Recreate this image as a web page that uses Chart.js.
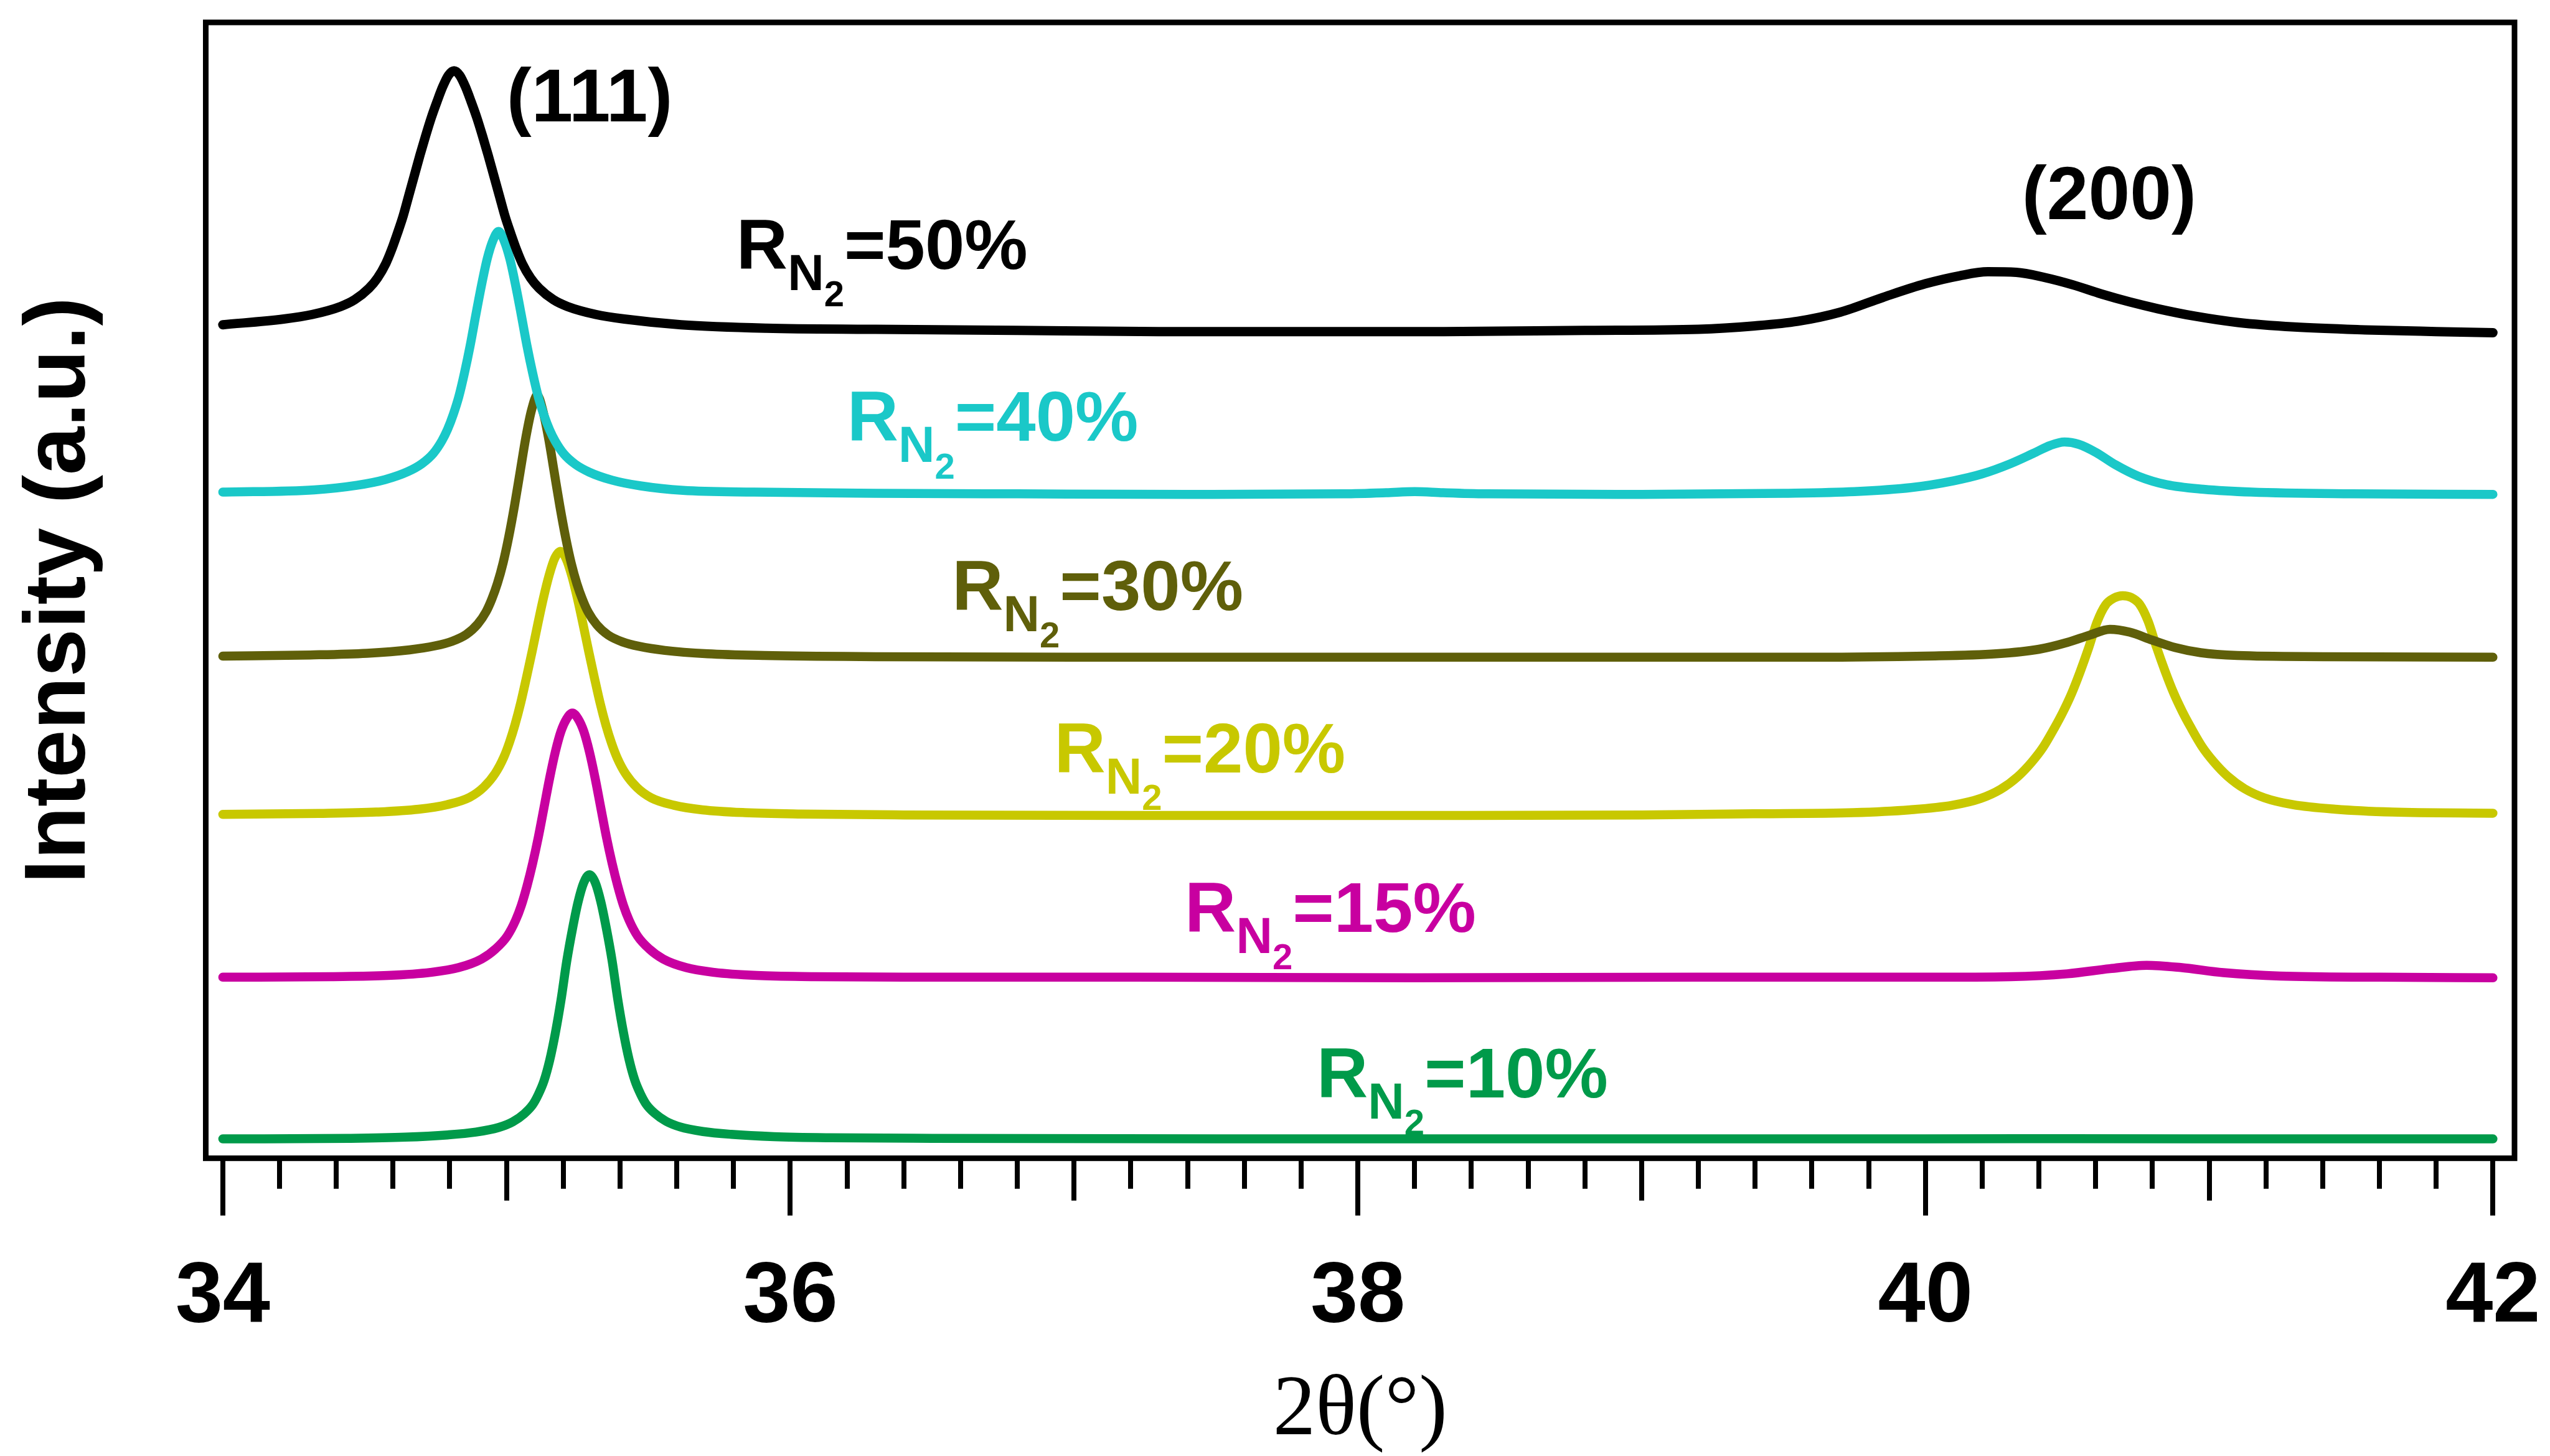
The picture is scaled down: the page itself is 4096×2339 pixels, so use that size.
<!DOCTYPE html>
<html>
<head>
<meta charset="utf-8">
<script src="https://cdn.jsdelivr.net/npm/chart.js@4.4.1/dist/chart.umd.min.js"></script>
<style>
  html, body { margin: 0; padding: 0; background: #fff; overflow: hidden; }
  canvas { display: block; }
</style>
</head>
<body>
<canvas id="xrd-chart" width="4096" height="2339"></canvas>
<script>
// XRD patterns, [2theta (deg), intensity (a.u., stacked)]
const rn50 = [
    [34.00, 73.2], [34.215, 73.7], [34.315, 74.1], [34.415, 74.8], [34.465, 75.4], [34.515, 76.4], [34.545, 77.3],
    [34.575, 78.6], [34.595, 79.8], [34.615, 81.2], [34.635, 82.7], [34.655, 84.5], [34.675, 86.3], [34.695, 88.1],
    [34.715, 89.8], [34.735, 91.4], [34.755, 92.8], [34.775, 94.1], [34.795, 95.1], [34.815, 95.5], [34.835, 95.1],
    [34.855, 94.1], [34.875, 92.8], [34.895, 91.4], [34.915, 89.8], [34.935, 88.1], [34.955, 86.3], [34.975, 84.5],
    [34.995, 82.7], [35.015, 81.2], [35.035, 79.8], [35.055, 78.6], [35.085, 77.3], [35.115, 76.4], [35.165, 75.4],
    [35.215, 74.8], [35.315, 74.1], [35.415, 73.7], [35.615, 73.2], [35.915, 72.9], [36.30, 72.8], [36.80, 72.7],
    [37.30, 72.6], [37.80, 72.6], [38.30, 72.6], [38.80, 72.7], [39.20, 72.8], [39.40, 73.1], [39.55, 73.5],
    [39.70, 74.3], [39.85, 75.6], [40.00, 76.8], [40.12, 77.5], [40.22, 77.85], [40.32, 77.8], [40.42, 77.35],
    [40.52, 76.7], [40.62, 75.9], [40.72, 75.2], [40.82, 74.6], [40.95, 73.95], [41.10, 73.4], [41.30, 73.0],
    [41.55, 72.75], [41.80, 72.6], [42.00, 72.5]
];
const rn40 = [
    [34.00, 58.5], [34.322, 58.7], [34.472, 59.1], [34.572, 59.6], [34.652, 60.3], [34.702, 61.0], [34.742, 61.9],
    [34.772, 63.0], [34.792, 64.0], [34.812, 65.3], [34.832, 66.9], [34.852, 69.0], [34.872, 71.4], [34.892, 74.1],
    [34.912, 76.7], [34.932, 79.0], [34.952, 80.6], [34.972, 81.4], [34.992, 80.55], [35.012, 78.95], [35.032, 76.65],
    [35.052, 74.05], [35.072, 71.35], [35.092, 68.95], [35.112, 66.85], [35.132, 65.25], [35.152, 63.95],
    [35.172, 62.95], [35.202, 61.85], [35.242, 60.95], [35.292, 60.25], [35.372, 59.55], [35.472, 59.05],
    [35.622, 58.65], [35.872, 58.5], [36.30, 58.4], [36.80, 58.35], [37.40, 58.3], [37.95, 58.35], [38.10, 58.45],
    [38.20, 58.55], [38.30, 58.45], [38.45, 58.35], [39.00, 58.3], [39.50, 58.4], [39.75, 58.55], [39.95, 58.9],
    [40.10, 59.5], [40.20, 60.1], [40.30, 61.0], [40.38, 61.9], [40.44, 62.6], [40.49, 62.9], [40.54, 62.7],
    [40.60, 62.0], [40.67, 60.9], [40.75, 59.9], [40.85, 59.15], [40.98, 58.75], [41.15, 58.5], [41.50, 58.35],
    [42.00, 58.3]
];
const rn30 = [
    [34.00, 44.1], [34.308, 44.2], [34.508, 44.35], [34.658, 44.65], [34.748, 45.0], [34.808, 45.4], [34.858, 46.0],
    [34.898, 46.9], [34.928, 48.0], [34.948, 49.1], [34.968, 50.5], [34.988, 52.3], [35.008, 54.6], [35.028, 57.3],
    [35.048, 60.3], [35.068, 63.3], [35.088, 65.7], [35.108, 67.0], [35.128, 65.65], [35.148, 63.25], [35.168, 60.25],
    [35.188, 57.25], [35.208, 54.55], [35.228, 52.25], [35.248, 50.45], [35.268, 49.05], [35.288, 47.95],
    [35.318, 46.85], [35.358, 45.95], [35.408, 45.35], [35.468, 44.95], [35.558, 44.6], [35.708, 44.3],
    [35.908, 44.15], [36.30, 44.05], [37.00, 44.0], [38.00, 44.0], [39.00, 44.0], [39.60, 44.0], [40.00, 44.1],
    [40.25, 44.3], [40.40, 44.7], [40.50, 45.3], [40.58, 45.95], [40.65, 46.45], [40.72, 46.2], [40.80, 45.5],
    [40.88, 44.85], [40.97, 44.4], [41.10, 44.15], [41.40, 44.05], [42.00, 44.0]
];
const rn20 = [
    [34.00, 30.2], [34.34, 30.28], [34.54, 30.4], [34.69, 30.65], [34.79, 31.05], [34.87, 31.7], [34.92, 32.6],
    [34.96, 33.8], [34.99, 35.2], [35.01, 36.5], [35.03, 38.1], [35.05, 40.0], [35.07, 42.2], [35.09, 44.5],
    [35.11, 46.9], [35.13, 49.2], [35.15, 51.2], [35.17, 52.7], [35.19, 53.3], [35.21, 52.65], [35.23, 51.15],
    [35.25, 49.15], [35.27, 46.85], [35.29, 44.45], [35.31, 42.15], [35.33, 39.95], [35.35, 38.05], [35.37, 36.45],
    [35.39, 35.15], [35.42, 33.75], [35.46, 32.55], [35.51, 31.65], [35.59, 31.0], [35.69, 30.6], [35.84, 30.35],
    [36.04, 30.23], [36.40, 30.15], [37.20, 30.1], [38.20, 30.1], [39.00, 30.15], [39.395, 30.25], [39.745, 30.35],
    [39.945, 30.6], [40.095, 31.0], [40.195, 31.6], [40.265, 32.4], [40.325, 33.5], [40.375, 34.8], [40.415, 36.1],
    [40.455, 37.8], [40.485, 39.2], [40.515, 40.8], [40.545, 42.7], [40.575, 44.8], [40.605, 47.1], [40.635, 48.6],
    [40.665, 49.2], [40.695, 49.4], [40.725, 49.25], [40.755, 48.65], [40.785, 47.15], [40.815, 44.85],
    [40.845, 42.75], [40.875, 40.85], [40.905, 39.25], [40.935, 37.85], [40.975, 36.15], [41.015, 34.85],
    [41.065, 33.55], [41.125, 32.45], [41.195, 31.65], [41.295, 31.05], [41.445, 30.65], [41.645, 30.4], [42.00, 30.3]
];
const rn15 = [
    [34.00, 15.9], [34.382, 15.95], [34.582, 16.05], [34.732, 16.32], [34.832, 16.75], [34.912, 17.5], [34.962, 18.4],
    [35.002, 19.5], [35.032, 20.9], [35.052, 22.2], [35.072, 23.9], [35.092, 25.9], [35.112, 28.2], [35.132, 30.8],
    [35.152, 33.4], [35.172, 35.7], [35.192, 37.5], [35.212, 38.6], [35.232, 39.1], [35.252, 38.6], [35.272, 37.5],
    [35.292, 35.7], [35.312, 33.4], [35.332, 30.8], [35.352, 28.2], [35.372, 25.9], [35.392, 23.9], [35.412, 22.2],
    [35.432, 20.9], [35.462, 19.5], [35.502, 18.4], [35.552, 17.5], [35.632, 16.75], [35.732, 16.32],
    [35.882, 16.05], [36.082, 15.95], [36.40, 15.9], [37.20, 15.9], [38.20, 15.85], [39.20, 15.9], [40.00, 15.9],
    [40.30, 15.95], [40.50, 16.2], [40.65, 16.65], [40.78, 16.95], [40.90, 16.75], [41.05, 16.3], [41.25, 16.0],
    [41.60, 15.9], [42.00, 15.85]
];
const rn10 = [
    [34.00, 1.7], [34.442, 1.75], [34.642, 1.85], [34.792, 2.05], [34.892, 2.3], [34.972, 2.7], [35.022, 3.2],
    [35.062, 3.9], [35.092, 4.7], [35.112, 5.6], [35.132, 6.8], [35.152, 8.6], [35.172, 11.0], [35.192, 13.9],
    [35.212, 17.3], [35.232, 20.1], [35.252, 22.5], [35.272, 24.2], [35.292, 24.9], [35.312, 24.25], [35.332, 22.55],
    [35.352, 20.15], [35.372, 17.35], [35.392, 13.95], [35.412, 11.05], [35.432, 8.65], [35.452, 6.85],
    [35.472, 5.65], [35.492, 4.75], [35.522, 3.95], [35.562, 3.25], [35.612, 2.75], [35.692, 2.35], [35.792, 2.1],
    [35.942, 1.9], [36.142, 1.8], [36.50, 1.75], [37.50, 1.7], [38.50, 1.7], [39.50, 1.7], [40.50, 1.72],
    [41.20, 1.7], [42.00, 1.7]
];

const ratios = ['50%', '40%', '30%', '20%', '15%', '10%'];
const seriesData = [rn50, rn40, rn30, rn20, rn15, rn10];
const xTickLabels = [34, 36, 38, 40, 42];

const colors = ['#000000', '#1ac8c8', '#5f5f0a', '#c8c800', '#c800a0', '#009a4a'];
// where each R(N2) label sits, in data coordinates (left edge, baseline)
const labelAnchors = [[35.81, 78.1], [36.2, 63.0], [36.57, 48.15], [36.93, 33.9], [37.39, 19.9], [37.855, 5.35]];
const peakNames = [['(111)', 35.0, 91.07], ['(200)', 40.34, 82.49]];

const SANS = '"Liberation Sans", Arial, Helvetica, sans-serif';
const SERIF = '"Liberation Serif", "Times New Roman", serif';

const frameAndLabels = {
    id: 'frameAndLabels',
    afterDraw(chart) {
        const { ctx, chartArea: a, scales: { x, y } } = chart;
        ctx.save();

        // box around the plot
        ctx.strokeStyle = '#000';
        ctx.lineWidth = 9;
        ctx.lineJoin = 'miter';
        ctx.strokeRect(a.left, a.top, a.right - a.left, a.bottom - a.top);

        // outward ticks: long at even, medium at odd, short every 0.2
        ctx.lineWidth = 8;
        ctx.lineCap = 'butt';
        for (let i = 0; i <= 40; i++) {
            const v = 34 + i * 0.2;
            const len = i % 10 === 0 ? 92 : (i % 5 === 0 ? 68 : 49);
            const px = Math.round(x.getPixelForValue(v));
            ctx.beginPath();
            ctx.moveTo(px, a.bottom);
            ctx.lineTo(px, a.bottom + len);
            ctx.stroke();
        }

        // peak indices
        ctx.fillStyle = '#000';
        ctx.textAlign = 'left';
        ctx.textBaseline = 'alphabetic';
        ctx.font = `bold 120px ${SANS}`;
        peakNames.forEach(([txt, px, py]) => {
            ctx.fillText(txt, x.getPixelForValue(px), y.getPixelForValue(py));
        });

        // R_N2 = xx% labels
        const F = 114;
        ratios.forEach((r, i) => {
            let px = x.getPixelForValue(labelAnchors[i][0]);
            const py = y.getPixelForValue(labelAnchors[i][1]);
            ctx.fillStyle = colors[i];
            ctx.font = `bold ${F}px ${SANS}`;
            ctx.fillText('R', px, py);
            px += ctx.measureText('R').width;
            ctx.font = `bold ${Math.round(F * 0.71)}px ${SANS}`;
            ctx.fillText('N', px, py + F * 0.3);
            px += ctx.measureText('N').width;
            ctx.font = `bold ${Math.round(F * 0.51)}px ${SANS}`;
            ctx.fillText('2', px, py + F * 0.53);
            px += ctx.measureText('2').width;
            ctx.font = `bold ${F}px ${SANS}`;
            ctx.fillText('=' + r, px, py);
        });

        ctx.restore();
    }
};

const datasets = seriesData.map((d, i) => ({
    label: 'RN2=' + ratios[i],
    data: d.map(p => ({ x: p[0], y: p[1] })),
    borderColor: colors[i],
    borderWidth: i === 0 ? 15 : 14.5,
    cubicInterpolationMode: 'monotone',
    borderCapStyle: 'round',
    borderJoinStyle: 'round',
    pointRadius: 0,
    fill: false,
    order: i
}));

const ctx = document.getElementById('xrd-chart').getContext('2d');
const chart = new Chart(ctx, {
    type: 'line',
    data: { datasets },
    options: {
        responsive: false,
        animation: false,
        devicePixelRatio: 1,
        layout: { padding: { top: 36, right: 57, bottom: 0, left: 0 } },
        plugins: {
            legend: { display: false },
            tooltip: { enabled: false }
        },
        scales: {
            x: {
                type: 'linear',
                min: 33.94,
                max: 42.076,
                grid: { display: false, drawTicks: false },
                border: { display: false },
                afterBuildTicks: s => { s.ticks = xTickLabels.map(v => ({ value: v })); },
                afterFit: s => {
                    s.height = 478.3;
                    // tick padding is vertical here, keep it out of the side margins
                    s.paddingLeft = 0;
                    s.paddingRight = 0;
                },
                ticks: {
                    autoSkip: false,
                    maxRotation: 0,
                    padding: 156,
                    color: '#000',
                    font: { family: SANS, size: 137, weight: 'bold', lineHeight: 1 }
                },
                title: {
                    display: true,
                    text: '2θ(°)',
                    color: '#000',
                    font: { family: SERIF, size: 137, lineHeight: 1 },
                    padding: { top: 0, bottom: 2 }
                }
            },
            y: {
                type: 'linear',
                min: 0,
                max: 99.75,
                grid: { display: false, drawTicks: false },
                border: { display: false },
                ticks: { display: false },
                afterFit: s => { s.width = 330.5; },
                title: {
                    display: true,
                    text: 'Intensity (a.u.)',
                    color: '#000',
                    font: { family: SANS, size: 139, weight: 'bold', lineHeight: 1 },
                    padding: { top: 28, bottom: 0 }
                }
            }
        }
    },
    plugins: [frameAndLabels]
});
</script>
</body>
</html>
